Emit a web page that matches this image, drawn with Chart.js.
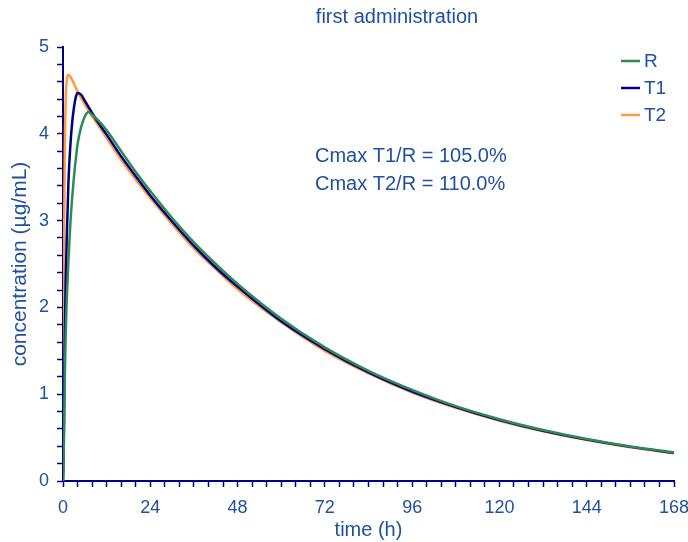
<!DOCTYPE html>
<html>
<head>
<meta charset="utf-8">
<script src="https://cdn.jsdelivr.net/npm/chart.js@4/dist/chart.umd.min.js"></script>
<style>
  html, body { margin: 0; padding: 0; background: #fff; }
  #wrap { width: 688px; height: 542px; }
</style>
</head>
<body>
<div id="wrap"><canvas id="chart-pk"></canvas></div>
<script>
// Data
const timeH = [0, 0.25, 0.5, 0.75, 1, 1.5, 2, 2.5, 3, 3.5, 4, 5, 6, 7, 8, 10, 12, 16, 20, 24,
  30, 36, 42, 48, 60, 72, 84, 96, 108, 120, 132, 144, 156, 168];
const concR = [0, 0.45, 1.2, 1.7, 2.05, 2.55, 2.95, 3.25, 3.5, 3.7, 3.88, 4.08, 4.2, 4.25, 4.22, 4.14, 4.04, 3.80, 3.56, 3.34,
  3.03, 2.75, 2.50, 2.27, 1.87, 1.54, 1.27, 1.05, 0.862, 0.712, 0.587, 0.483, 0.398, 0.328];
const concT1 = [0, 0.6, 1.7, 2.3, 2.75, 3.45, 3.85, 4.12, 4.3, 4.42, 4.47, 4.45, 4.38, 4.31, 4.24, 4.11, 3.99, 3.74, 3.51, 3.29,
  2.99, 2.71, 2.46, 2.24, 1.84, 1.52, 1.25, 1.03, 0.852, 0.702, 0.578, 0.477, 0.393, 0.324];
const concT2 = [0, 2.6, 3.85, 4.4, 4.6, 4.68, 4.66, 4.62, 4.58, 4.53, 4.49, 4.41, 4.34, 4.27, 4.20, 4.08, 3.95, 3.70, 3.47, 3.26,
  2.96, 2.68, 2.44, 2.21, 1.83, 1.50, 1.24, 1.02, 0.843, 0.695, 0.572, 0.472, 0.389, 0.320];
const seriesNames = ["R", "T1", "T2"];
const ratioTexts = ["Cmax T1/R = 105.0%", "Cmax T2/R = 110.0%"];
const titleText = "first administration";

const textBlue = "#2050a0";
const axisNavy = "#000080";
const colors = ["#2e8b57", "#000080", "#ff9a40"];
const fontName = "'Liberation Sans', Arial, sans-serif";

function toPoints(ys) {
    return timeH.map((t, i) => ({ x: t, y: ys[i] }));
}

// Title, ratio text and legend drawn on the canvas
const extraText = {
    id: "extraText",
    afterDraw(chart) {
        const ctx = chart.ctx;
        ctx.save();
        ctx.fillStyle = textBlue;
        ctx.textBaseline = "middle";

        ctx.font = "20px " + fontName;
        ctx.textAlign = "center";
        ctx.fillText(titleText, 397, 17);

        ctx.textAlign = "left";
        ctx.fillText(ratioTexts[0], 315, 156);
        ctx.fillText(ratioTexts[1], 315, 184);

        // legend
        ctx.font = "19px " + fontName;
        chart.data.datasets.forEach((ds, i) => {
            const y = 61 + i * 27;
            ctx.strokeStyle = ds.borderColor;
            ctx.lineWidth = 2.5;
            ctx.beginPath();
            ctx.moveTo(621, y);
            ctx.lineTo(640, y);
            ctx.stroke();
            ctx.fillStyle = textBlue;
            ctx.fillText(ds.label, 644, y + 1);
        });
        ctx.restore();
    },
};

new Chart(document.getElementById("chart-pk"), {
    type: "line",
    data: {
        datasets: seriesNames.map((name, i) => ({
            label: name,
            data: toPoints([concR, concT1, concT2][i]),
            borderColor: colors[i],
            borderWidth: 2.5,
            pointRadius: 0,
            cubicInterpolationMode: "monotone",
            fill: false,
        })),
    },
    options: {
        responsive: true,
        maintainAspectRatio: false,
        animation: false,
        layout: { padding: { top: 47, right: 14, left: 8, bottom: 0 } },
        plugins: {
            legend: { display: false },
            tooltip: { enabled: false },
        },
        scales: {
            x: {
                type: "linear",
                min: 0,
                max: 168,
                afterFit(scale) {
                    scale.height = 61;
                    scale.paddingLeft = 0;
                    scale.paddingRight = 0;
                },
                ticks: {
                    stepSize: 4,
                    autoSkip: false,
                    maxRotation: 0,
                    padding: 10,
                    color: textBlue,
                    font: { family: fontName, size: 18 },
                    callback: (v) => (v % 24 === 0 ? String(v) : ""),
                },
                grid: {
                    drawOnChartArea: false,
                    tickLength: 6,
                    tickColor: axisNavy,
                    tickWidth: 1.5,
                },
                border: { color: axisNavy, width: 2 },
                title: {
                    display: true,
                    text: "time (h)",
                    color: textBlue,
                    font: { family: fontName, size: 20 },
                    padding: { top: 0, bottom: 0 },
                },
            },
            y: {
                min: 0,
                max: 5,
                afterFit(scale) {
                    scale.width = 55;
                    scale.paddingTop = 0;
                    scale.paddingBottom = 0;
                },
                ticks: {
                    stepSize: 0.2,
                    autoSkip: false,
                    padding: 8,
                    color: textBlue,
                    font: { family: fontName, size: 18 },
                    callback: (v) => (Math.abs(v - Math.round(v)) < 1e-6 ? String(Math.round(v)) : ""),
                },
                grid: {
                    drawOnChartArea: false,
                    tickLength: 6,
                    tickColor: axisNavy,
                    tickWidth: 1.5,
                },
                border: { color: axisNavy, width: 2 },
                title: {
                    display: true,
                    text: "concentration (µg/mL)",
                    color: textBlue,
                    font: { family: fontName, size: 21 },
                    padding: 0,
                },
            },
        },
    },
    plugins: [extraText],
});
</script>
</body>
</html>
